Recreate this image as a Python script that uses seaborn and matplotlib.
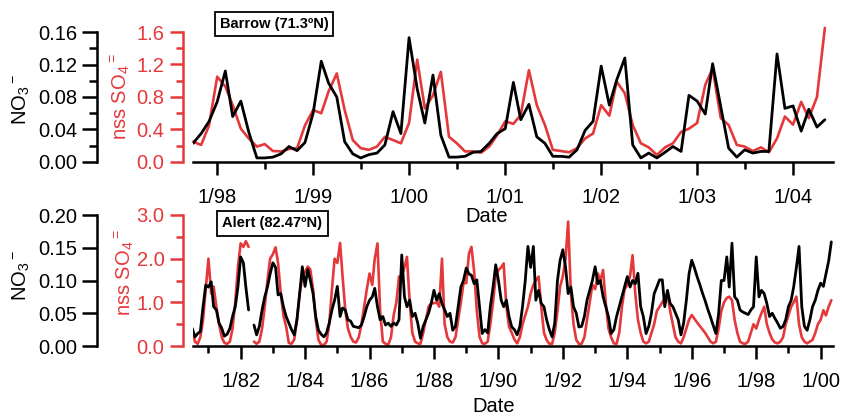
import numpy as np
import pandas as pd
import matplotlib
matplotlib.use("Agg")
import matplotlib.pyplot as plt
import matplotlib.dates as mdates
from matplotlib.ticker import FixedLocator, MultipleLocator, FormatStrFormatter
import seaborn as sns

# ---------------- data ----------------
# Barrow, monthly means from Oct 1997 to May 2004
barrow_start = "1997-10-01"
barrow_no3 = [
    0.023, 0.035, 0.050, 0.074, 0.112, 0.056, 0.075, 0.037, 0.005, 0.005, 0.006, 0.010,
    0.019, 0.014, 0.024, 0.060, 0.124, 0.097, 0.080, 0.025, 0.010, 0.005, 0.009, 0.011,
    0.021, 0.062, 0.035, 0.153, 0.090, 0.048, 0.107, 0.033, 0.006, 0.006, 0.007, 0.012,
    0.013, 0.023, 0.035, 0.041, 0.098, 0.052, 0.071, 0.031, 0.023, 0.007, 0.007, 0.006,
    0.015, 0.039, 0.050, 0.118, 0.070, 0.101, 0.128, 0.021, 0.005, 0.011, 0.005, 0.012,
    0.019, 0.013, 0.082, 0.075, 0.059, 0.121, 0.068, 0.017, 0.006, 0.015, 0.011, 0.013,
    0.013, 0.133, 0.066, 0.069, 0.038, 0.065, 0.043, 0.052,
]
barrow_so4 = [
    0.25, 0.21, 0.45, 1.05, 0.93, 0.70, 0.41, 0.29, 0.19, 0.22, 0.135, 0.13,
    0.16, 0.17, 0.45, 0.64, 0.60, 0.87, 1.09, 0.64, 0.27, 0.17, 0.15, 0.19,
    0.31, 0.27, 0.23, 0.48, 1.26, 0.66, 0.82, 1.11, 0.31, 0.23, 0.13, 0.13,
    0.115, 0.19, 0.33, 0.50, 0.47, 0.58, 1.13, 0.70, 0.455, 0.15, 0.135, 0.12,
    0.17, 0.29, 0.35, 0.70, 0.57, 0.99, 0.845, 0.455, 0.23, 0.18, 0.086, 0.18,
    0.23, 0.37, 0.41, 0.48, 0.95, 1.15, 0.54, 0.455, 0.21, 0.19, 0.135, 0.18,
    0.12, 0.29, 0.56, 0.46, 0.74, 0.54, 0.80, 1.65,
]

# Alert, monthly means from Jul 1980 to May 2000 (nan = no sample)
alert_start = "1980-07-01"
nan = np.nan
alert_no3 = [
    0.027, 0.014, 0.019, 0.022, 0.060, 0.093,
    0.090, 0.098, 0.060, 0.055, 0.035, 0.027, 0.015, 0.018, 0.027, 0.045, 0.060, 0.090,
    0.136, 0.127, 0.090, 0.055, nan, 0.032, 0.017, 0.030, 0.055, 0.075, 0.090, 0.110,
    0.127, 0.120, 0.078, 0.080, 0.060, 0.045, 0.035, 0.025, 0.017, 0.040, 0.080, 0.121,
    0.091, 0.117, 0.100, 0.080, 0.045, 0.024, 0.018, 0.014, 0.020, 0.035, 0.055, 0.070,
    0.091, 0.045, 0.058, 0.055, 0.040, 0.038, 0.030, 0.029, 0.028, 0.032, 0.045, 0.060,
    0.070, 0.075, 0.088, 0.060, 0.040, 0.045, 0.032, 0.035, 0.030, 0.035, 0.032, 0.040,
    0.139, 0.075, 0.060, 0.070, 0.045, 0.050, 0.035, 0.012, 0.030, 0.040, 0.050, 0.065,
    0.085, 0.070, 0.080, 0.065, 0.055, 0.045, 0.050, 0.024, 0.030, 0.060, 0.090, 0.100,
    0.119, 0.110, 0.108, 0.095, 0.101, 0.060, 0.019, 0.025, 0.020, 0.060, 0.090, 0.124,
    0.100, 0.070, 0.060, 0.070, 0.045, 0.029, 0.025, 0.017, 0.030, 0.060, 0.100, 0.152,
    0.120, 0.152, 0.070, 0.085, 0.065, 0.060, 0.040, 0.025, 0.014, 0.035, 0.100, 0.131,
    0.147, 0.120, 0.080, 0.090, 0.060, 0.050, 0.029, 0.030, 0.045, 0.070, 0.085, 0.100,
    0.121, 0.095, 0.100, 0.075, 0.060, 0.045, 0.019, 0.025, 0.045, 0.060, 0.075, 0.090,
    0.106, 0.090, 0.100, 0.095, 0.111, 0.060, 0.045, 0.019, 0.030, 0.050, 0.080, 0.090,
    0.101, 0.101, 0.060, 0.085, 0.065, 0.060, 0.050, 0.040, 0.017, 0.035, 0.070, 0.110,
    0.131, 0.119, 0.106, 0.094, 0.081, 0.069, 0.056, 0.044, 0.031, 0.019, 0.050, 0.100,
    0.100, 0.136, 0.090, 0.157, 0.075, 0.070, 0.055, 0.052, 0.050, 0.048, 0.055, 0.060,
    0.136, 0.075, 0.085, 0.080, 0.065, 0.045, 0.050, 0.042, 0.035, 0.027, 0.030, 0.040,
    0.060, 0.070, 0.090, 0.120, 0.152, 0.060, 0.030, 0.024, 0.040, 0.060, 0.070, 0.085,
    0.096, 0.091, 0.110, 0.130, 0.159,
]
alert_so4 = [
    0.40, 0.10, 0.05, 0.20, 0.60, 1.30,
    2.00, 1.20, 1.36, 0.90, 0.50, 0.20, 0.07, 0.05, 0.10, 0.40, 1.00, 1.80,
    2.35, 2.27, 2.40, 2.27, nan, 0.10, 0.05, 0.10, 0.40, 0.90, 1.50, 2.00,
    2.10, 2.26, 1.90, 1.20, 0.70, 0.44, 0.07, 0.05, 0.15, 0.60, 1.20, 1.60,
    1.70, 1.82, 1.75, 1.30, 0.60, 0.14, 0.03, 0.02, 0.10, 0.50, 1.30, 2.00,
    1.90, 2.36, 1.60, 0.82, 0.40, 0.21, 0.10, 0.08, 0.20, 0.50, 0.90, 1.30,
    1.66, 1.40, 2.00, 2.35, 0.80, 0.10, 0.05, 0.03, 0.20, 0.70, 1.00, 1.59,
    1.60, 1.80, 2.04, 1.00, 0.30, 0.10, 0.06, 0.05, 0.30, 0.60, 0.90, 0.98,
    0.98, 1.00, 0.90, 2.00, 0.50, 0.20, 0.10, 0.08, 0.20, 0.60, 1.00, 1.44,
    1.44, 2.12, 2.27, 1.70, 0.80, 0.21, 0.06, 0.05, 0.10, 0.50, 1.00, 1.59,
    1.74, 1.80, 1.89, 0.90, 0.44, 0.30, 0.15, 0.06, 0.20, 0.50, 0.70, 0.90,
    1.20, 1.40, 1.50, 1.59, 0.90, 0.30, 0.14, 0.05, 0.05, 0.30, 0.80, 1.36,
    1.60, 2.00, 2.85, 1.20, 0.50, 0.14, 0.05, 0.05, 0.20, 0.60, 1.00, 1.40,
    1.30, 1.66, 1.50, 1.74, 1.00, 0.40, 0.20, 0.06, 0.05, 0.30, 0.90, 1.30,
    1.40, 1.60, 2.08, 1.20, 0.60, 0.30, 0.10, 0.06, 0.10, 0.30, 0.50, 0.80,
    0.90, 1.00, 1.10, 1.21, 0.80, 0.50, 0.20, 0.10, 0.06, 0.20, 0.40, 0.60,
    0.71, 0.62, 0.54, 0.46, 0.38, 0.30, 0.20, 0.10, 0.06, 0.10, 0.40, 0.80,
    1.00, 1.10, 1.13, 1.05, 0.60, 0.30, 0.10, 0.06, 0.05, 0.10, 0.30, 0.50,
    0.40, 0.60, 0.75, 0.90, 0.50, 0.30, 0.15, 0.08, 0.06, 0.10, 0.20, 0.50,
    0.70, 0.90, 1.00, 1.13, 0.50, 0.20, 0.10, 0.06, 0.10, 0.14, 0.30, 0.50,
    0.60, 0.82, 0.70, 0.90, 1.05,
]

barrow_label_years = [1998, 1999, 2000, 2001, 2002, 2003, 2004]
alert_label_years = list(range(1982, 2001, 2))
alert_minor_years = list(range(1981, 2000, 2))

# ---------------- style ----------------
sns.set_style("ticks")
plt.rcParams["font.family"] = ["Liberation Sans", "DejaVu Sans"]
plt.rcParams["mathtext.fontset"] = "custom"
plt.rcParams["mathtext.rm"] = "Liberation Sans"
plt.rcParams["mathtext.it"] = "Liberation Sans"
plt.rcParams["mathtext.bf"] = "Liberation Sans:bold"
for key in ("text.color", "axes.labelcolor", "xtick.color", "ytick.color",
            "axes.edgecolor"):
    plt.rcParams[key] = "black"

RED = "#e5383b"
BLACK = "#000000"
W, H = 842, 416
FS = 14.5

fig = plt.figure(figsize=(W / 100, H / 100), dpi=100)


def frac_rect(x0, y_top, x1, y_bot):
    return [x0 / W, 1 - y_bot / H, (x1 - x0) / W, (y_bot - y_top) / H]


def px_text(x, y, s, **kw):
    fig.text(x / W, 1 - y / H, s, ha="center", va="center", **kw)


def draw_series(ax, start, values, color, lw):
    df = pd.DataFrame({
        "date": pd.date_range(start, periods=len(values), freq="MS"),
        "value": values,
    })
    df["segment"] = df["value"].isna().cumsum()
    df = df.dropna()
    sns.lineplot(data=df, x="date", y="value", units="segment", estimator=None,
                 color=color, linewidth=lw, ax=ax, legend=False)


def build_panel(rect, start, no3, so4, xlim, major_years, minor_dates,
                no3_lim, no3_major, no3_minor, so4_lim, so4_major, so4_minor,
                xpad, clip_red=True):
    ax = fig.add_axes(rect)          # red axis (inner)
    ax2 = ax.twinx()                 # black axis (outer)

    draw_series(ax, start, so4, RED, 1.9)
    draw_series(ax2, start, no3, BLACK, 2.0)
    if not clip_red:
        for ln in ax.lines:
            ln.set_clip_on(False)

    ax.set_xlim(pd.Timestamp(xlim[0]), pd.Timestamp(xlim[1]))
    ax.set_ylim(*so4_lim)
    ax2.set_ylim(*no3_lim)

    # spines
    for s in ("top", "right"):
        ax.spines[s].set_visible(False)
    for s in ("top", "right", "bottom"):
        ax2.spines[s].set_visible(False)
    ax.spines["left"].set_position(("outward", 7))
    ax.spines["left"].set_color(RED)
    ax.spines["left"].set_linewidth(1.8)
    ax.spines["bottom"].set_linewidth(1.8)
    ax.spines["bottom"].set_color(BLACK)
    ax2.spines["left"].set_visible(True)
    ax2.spines["left"].set_position(("outward", 69))
    ax2.spines["left"].set_linewidth(1.8)
    ax2.spines["left"].set_color(BLACK)

    # x ticks
    major = [mdates.date2num(pd.Timestamp(f"{y}-01-01")) for y in major_years]
    ax.xaxis.set_major_locator(FixedLocator(major))
    ax.set_xticklabels([f"1/{y % 100:02d}" for y in major_years])
    ax.xaxis.set_minor_locator(FixedLocator(
        [mdates.date2num(pd.Timestamp(d)) for d in minor_dates]))
    ax.tick_params(axis="x", which="major", length=9.5, width=1.8, pad=xpad,
                   labelsize=FS, direction="out", bottom=True, colors=BLACK)
    ax.tick_params(axis="x", which="minor", length=5, width=1.8,
                   direction="out", bottom=True, colors=BLACK)
    ax.set_xlabel("")

    # red y axis
    ax.yaxis.set_major_locator(MultipleLocator(so4_major))
    if so4_minor:
        ax.yaxis.set_minor_locator(MultipleLocator(so4_minor))
    ax.yaxis.set_major_formatter(FormatStrFormatter("%.1f"))
    ax.tick_params(axis="y", which="major", length=9.5, width=1.8, pad=4,
                   labelsize=FS, colors=RED, direction="out", left=True)
    ax.tick_params(axis="y", which="minor", length=5, width=1.8,
                   colors=RED, direction="out", left=True)
    ax.set_ylabel("")

    # black y axis on the left
    ax2.yaxis.set_ticks_position("left")
    ax2.yaxis.set_label_position("left")
    ax2.yaxis.set_major_locator(MultipleLocator(no3_major))
    if no3_minor:
        ax2.yaxis.set_minor_locator(MultipleLocator(no3_minor))
    ax2.yaxis.set_major_formatter(FormatStrFormatter("%.2f"))
    ax2.tick_params(axis="y", which="major", length=10.5, width=1.8, pad=4,
                    labelsize=FS, direction="out", left=True, right=False,
                    colors=BLACK)
    ax2.tick_params(axis="y", which="minor", length=5.5, width=1.8,
                    direction="out", left=True, right=False, colors=BLACK)
    ax2.set_ylabel("")
    ax2.set_xlabel("")
    ax2.grid(False)
    ax.grid(False)
    return ax, ax2


box = dict(boxstyle="square,pad=0.35", fc="white", ec="black", lw=1.3)

# Barrow panel
build_panel(
    frac_rect(193, 32, 833, 162), barrow_start, barrow_no3, barrow_so4,
    ("1997-10-01", "2004-06-01"), barrow_label_years,
    [f"{y}-07-01" for y in range(1998, 2004)],
    (0, 0.16), 0.04, 0.02, (0, 1.6), 0.4, 0.2, 9.5, clip_red=False)
px_text(274, 24, "Barrow (71.3ºN)", fontsize=10.5, fontweight="bold", bbox=box)
px_text(487, 216, "Date", fontsize=FS)
px_text(21, 100, r"NO$_3$$^-$", fontsize=FS, rotation=90)
px_text(121, 97, r"nss SO$_4$$^=$", fontsize=FS, rotation=90, color=RED)

# Alert panel
build_panel(
    frac_rect(193, 215, 833, 346), alert_start, alert_no3, alert_so4,
    ("1980-07-10", "2000-05-20"), alert_label_years,
    [f"{y}-01-01" for y in alert_minor_years],
    (0, 0.20), 0.05, None, (0, 3.0), 1.0, 0.5, 9.5)
px_text(272.5, 223.5, "Alert (82.47ºN)", fontsize=10.5, fontweight="bold", bbox=box)
px_text(494, 406, "Date", fontsize=FS)
px_text(21, 276, r"NO$_3$$^-$", fontsize=FS, rotation=90)
px_text(125, 273, r"nss SO$_4$$^=$", fontsize=FS, rotation=90, color=RED)

fig.savefig("out.png", dpi=100)
